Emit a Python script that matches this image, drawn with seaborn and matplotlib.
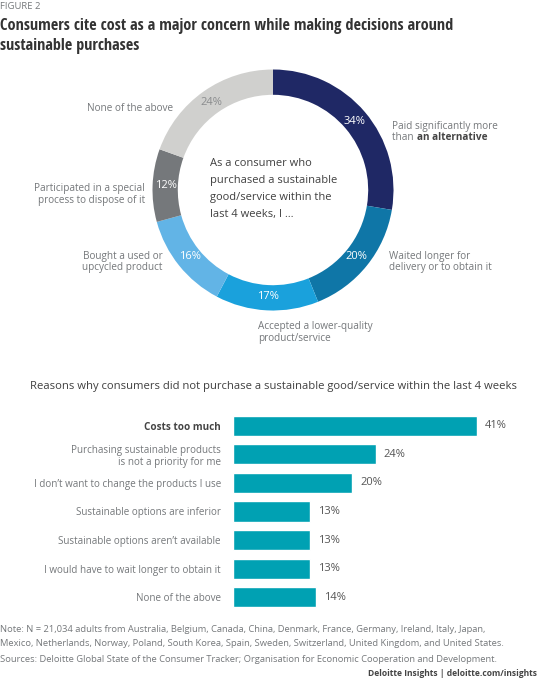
import matplotlib
matplotlib.use("Agg")
import matplotlib.pyplot as plt
import seaborn as sns
from matplotlib import font_manager
import numpy as np

# donut data (multi-response, clockwise from 12 o'clock)
donut_labels = ["Paid significantly more than an alternative",
                "Waited longer for delivery or to obtain it",
                "Accepted a lower-quality product/service",
                "Bought a used or upcycled product",
                "Participated in a special process to dispose of it",
                "None of the above"]
donut_values = [34, 20, 17, 16, 12, 24]
donut_colors = ["#1f2865", "#0f76a7", "#1aa1dc", "#62b4e6", "#75787b", "#d0d0ce"]
donut_text_colors = ["white", "white", "white", "white", "white", "#8a8c8e"]

# bar data
bar_labels = ["Costs too much",
              "Purchasing sustainable products\nis not a priority for me",
              "I don\u2019t want to change the products I use",
              "Sustainable options are inferior",
              "Sustainable options aren\u2019t available",
              "I would have to wait longer to obtain it",
              "None of the above"]
bar_values = [41, 24, 20, 13, 13, 13, 14]

W, H = 538, 680
GRAY = "#75787b"
DARK = "#333333"


def pick_font(cands):
    for c in cands:
        try:
            font_manager.findfont(c, fallback_to_default=False)
            return c
        except Exception:
            continue
    return "DejaVu Sans"


def condensed_bold():
    # look for a condensed bold sans face, if the system has one
    for pref in ["Open Sans", "Noto Sans", "Roboto", "DejaVu Sans", "Liberation Sans"]:
        for f in font_manager.fontManager.ttflist:
            if f.name.startswith(pref) and "ondensed" in (f.name + f.stretch + f.fname) \
                    and f.weight in ("bold", 700, 600, "semibold"):
                return font_manager.FontProperties(fname=f.fname)
    return None


BODY = pick_font(["Open Sans", "Noto Sans", "Lato"])

sns.set_theme(style="white")
plt.rcParams["font.family"] = [BODY, "DejaVu Sans"]

fig = plt.figure(figsize=(W / 100, H / 100), dpi=100)
fig.patch.set_facecolor("white")
rend = fig.canvas.get_renderer()


def put(x, y, s, **kw):
    kw.setdefault("va", "center")
    return fig.text(x / W, 1 - y / H, s, **kw)


def put_lines(x, y0, dy, lines, **kw):
    return [put(x, y0 + i * dy, s, **kw) for i, s in enumerate(lines)]


# header
put(0, 6.5, "FIGURE 2", fontsize=6.8, color=GRAY)
cprop = condensed_bold()
tkw = dict(fontsize=11, color=DARK)
if cprop is not None:
    tkw["fontproperties"] = cprop
else:
    tkw["fontweight"] = "bold"
titles = put_lines(0, 26, 19.5, ["Consumers cite cost as a major concern while making decisions around",
                                 "sustainable purchases"], **tkw)
tw = titles[0].get_window_extent(rend).width
for t in titles:
    t.set_fontsize(11 * 452 / tw)

# donut
cx, cy, r = 273, 190, 120.5
pax = fig.add_axes([(cx - r) / W, 1 - (cy + r) / H, 2 * r / W, 2 * r / H])
wedges, _ = pax.pie(donut_values, colors=donut_colors, startangle=90, counterclock=False,
                    wedgeprops=dict(width=0.21, edgecolor="none"))
pax.set_aspect("equal")
pax.set_xlim(-1, 1)
pax.set_ylim(-1, 1)
pax.axis("off")
for w, v, tc in zip(wedges, donut_values, donut_text_colors):
    ang = np.deg2rad((w.theta1 + w.theta2) / 2)
    pax.text(0.885 * np.cos(ang), 0.885 * np.sin(ang), f"{v}%", ha="center", va="center",
             fontsize=8, color=tc)

put_lines(210.3, 163, 17.2, ["As a consumer who", "purchased a sustainable",
                             "good/service within the", "last 4 weeks, I \u2026"],
          fontsize=8, color="#404040")

lab = dict(fontsize=7.2, color=GRAY)
put(392.4, 126, "Paid significantly more", **lab)
t = put(392.4, 138, "than ", **lab)
bb = t.get_window_extent(rend)
put(bb.x1, 138, "an alternative", fontsize=7.2, color="#444444", fontweight="bold")
put_lines(389.3, 256, 12, ["Waited longer for", "delivery or to obtain it"], **lab)
put_lines(258, 326, 12, ["Accepted a lower-quality", "product/service"], **lab)
put_lines(162.5, 256, 12, ["Bought a used or", "upcycled product"], ha="right", **lab)
put_lines(144.7, 188, 12, ["Participated in a special", "process to dispose of it"], ha="right", **lab)
put(173.5, 108.3, "None of the above", ha="right", **lab)

# bars
put(274, 387, "Reasons why consumers did not purchase a sustainable good/service within the last 4 weeks",
    ha="center", fontsize=8.1, color="#404040")

x0, px_per = 232.7, 244 / 41
top, step = 425.7 - 14.3, 28.6
bax = fig.add_axes([x0 / W, 1 - (top + 7 * step) / H, 50 * px_per / W, 7 * step / H])
sns.barplot(x=bar_values, y=bar_labels, ax=bax, color="#00a1b3", saturation=1,
            orient="h", width=0.7)
bax.set_xlim(0, 50)
bax.set_ylim(6.5, -0.5)
for s in bax.spines.values():
    s.set_visible(False)
bax.set_xticks([])
bax.tick_params(axis="y", length=0, pad=8.5, labelsize=7.15, labelcolor=GRAY)
bax.set_xlabel("")
bax.set_ylabel("")
tl = bax.get_yticklabels()
tl[0].set_fontweight("bold")
tl[0].set_color("#444444")
for tk in tl:
    tk.set_linespacing(1.15)
for c in bax.containers:
    bax.bar_label(c, labels=[f"{v}%" for v in bar_values], padding=6, fontsize=8, color="#555555")

# notes
put_lines(0, 629, 15, ["Note: N = 21,034 adults from Australia, Belgium, Canada, China, Denmark, France, Germany, Ireland, Italy, Japan,",
                       "Mexico, Netherlands, Norway, Poland, South Korea, Spain, Sweden, Switzerland, United Kingdom, and United States.",
                       "Sources: Deloitte Global State of the Consumer Tracker; Organisation for Economic Cooperation and Development."],
          fontsize=6.75, color=GRAY)
put(W - 1, 674, "Deloitte Insights | deloitte.com/insights", ha="right", fontsize=6.1,
    fontweight="bold", color="#444444")

fig.savefig("out.png", dpi=100, facecolor="white")
